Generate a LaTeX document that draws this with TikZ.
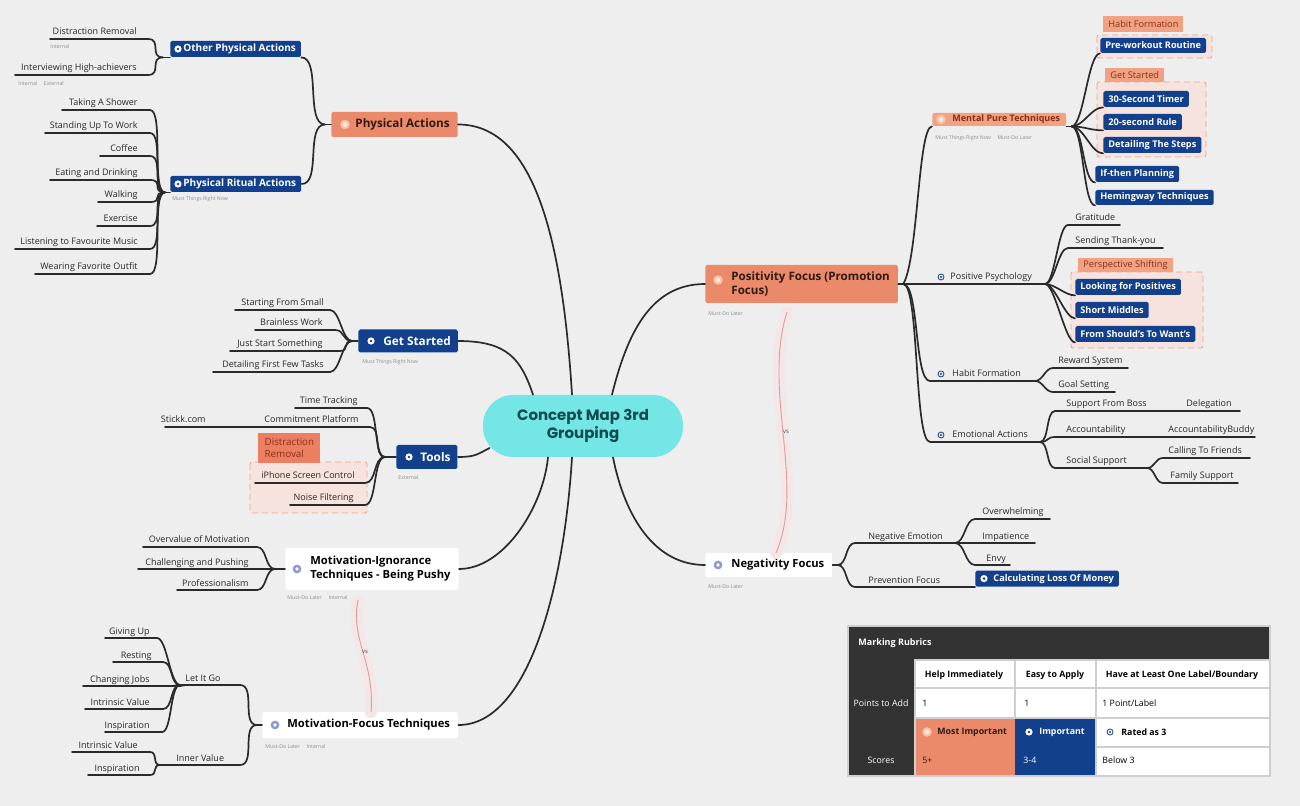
\documentclass[tikz,border=0pt]{standalone}
\usepackage{fontspec}
\setmainfont{Open Sans}
\newfontfamily\popfont{Poppins}
\definecolor{bgc}{HTML}{EFEEEE}
\definecolor{navy}{HTML}{12408C}
\definecolor{orng}{HTML}{EA8A6A}
\definecolor{orlab}{HTML}{F0A283}
\definecolor{ortxt}{HTML}{8A2E17}
\definecolor{dtxt}{HTML}{2E1A12}
\definecolor{cyanc}{HTML}{74E6E6}
\definecolor{tealc}{HTML}{0E4A50}
\definecolor{lnc}{HTML}{2A2A2A}
\definecolor{bndf}{HTML}{F6E3DE}
\definecolor{bndd}{HTML}{E9A38C}
\definecolor{relc}{HTML}{E29A9A}
\definecolor{relg}{HTML}{F3E7E7}
\definecolor{subc}{HTML}{8C8C8C}
\definecolor{tdark}{HTML}{333333}
\definecolor{gridc}{HTML}{CFCFCF}
\definecolor{icb}{HTML}{8E9BD0}
\definecolor{icor}{HTML}{F6C2AC}
\tikzset{
  ln/.style={draw=lnc, line width=0.85pt, line cap=round},
  lf/.style={font=\fontsize{4.5}{5.2}\selectfont, text=black!85, inner sep=0pt},
  subt/.style={font=\fontsize{2.6}{3}\selectfont, text=subc, inner sep=0pt, anchor=base west},
  bbox/.style={fill=navy, text=white, font=\bfseries\fontsize{4.6}{5.4}\selectfont, rounded corners=0.8pt, inner xsep=2.5pt, inner ysep=0pt, anchor=west},
  obox/.style={fill=orng, text=dtxt, font=\bfseries\fontsize{5.85}{6.8}\selectfont, rounded corners=1pt, inner xsep=4pt, inner ysep=0pt, anchor=west, align=left},
  wbox/.style={fill=white, text=black, font=\bfseries\fontsize{5.6}{7}\selectfont, rounded corners=1pt, inner xsep=4pt, inner ysep=0pt, anchor=west, align=left},
  olab/.style={fill=orlab, text=ortxt, font=\fontsize{4.6}{5.2}\selectfont, inner xsep=2.5pt, inner ysep=0pt, anchor=west, align=left},
  bnd/.style={fill=bndf, draw=bndd, densely dashed, line width=0.4pt, rounded corners=1pt},
  rel/.style={draw=relc, line width=0.45pt},
  relglow/.style={draw=relg, line width=6pt, line cap=round},
  cellt/.style={font=\fontsize{4.4}{5}\selectfont, inner sep=0pt},
  cellb/.style={font=\bfseries\fontsize{4.4}{5}\selectfont, inner sep=0pt},
}
\newcommand\leafL[6]{%
  \coordinate (#1-l) at (#2,#4);
  \coordinate (#1-r) at (#3,#4);
  \draw[ln] (#1-l) -- (#1-r);
  \node[lf,anchor=base east] (#1) at (#5,#4-4) {#6};}
\newcommand\leafR[6]{%
  \coordinate (#1-l) at (#2,#4);
  \coordinate (#1-r) at (#3,#4);
  \draw[ln] (#1-l) -- (#1-r);
  \node[lf,anchor=base west] (#1) at (#5,#4-4) {#6};}
\newcommand\cnL[3][14]{\draw[ln] (#2) .. controls +(-#1,0) and +(#1,0) .. (#3);}
\newcommand\cnR[3][14]{\draw[ln] (#2) .. controls +(#1,0) and +(-#1,0) .. (#3);}
\newcommand\icW[1]{\fill[white] (#1) circle (1.8pt); \fill[navy] (#1) circle (0.7pt);}
\newcommand\icO[1]{\fill[icor] (#1) circle (2.4pt); \fill[white,opacity=0.6] (#1) circle (1.2pt);}
\newcommand\icB[1]{\fill[icb] (#1) circle (2.2pt); \fill[white] (#1) circle (0.9pt);}
\newcommand\icP[1]{\draw[navy, line width=0.4pt] (#1) circle (1.5pt); \fill[navy] (#1) circle (0.55pt);}
\begin{document}
\begin{tikzpicture}[x=0.5pt,y=-0.5pt]
\useasboundingbox (0,0) rectangle (1300,806);
\fill[bgc] (0,0) rectangle (1300,806);

% ---------- boundaries ----------
\draw[bnd] (250,462) rectangle (367,513);
\draw[bnd] (1097,35) rectangle (1212,58);
\draw[bnd] (1097,82) rectangle (1206,157);
\draw[bnd] (1071,272) rectangle (1203,348);

% ---------- central ----------
\node[fill=cyanc, rounded corners=15pt, minimum width=100pt, minimum height=31pt,
      font=\popfont\bfseries\fontsize{7.5}{9.4}\selectfont, text=tealc, align=center] (c) at (583,426) {Concept Map 3rd\\Grouping};
\coordinate (cA) at ([shift={(-11,0)}]c.north);
\coordinate (cB) at ([shift={(-50,0)}]c.north);
\coordinate (cP) at ([shift={(29,0)}]c.north);
\coordinate (cC) at ([shift={(7,22)}]c.west);
\coordinate (cD) at ([shift={(-35,0)}]c.south);
\coordinate (cE) at ([shift={(-11,0)}]c.south);
\coordinate (cN) at ([shift={(30,0)}]c.south);

% ---------- main branch boxes ----------
\node[obox, minimum height=12.5pt] (pa) at (331,124.5) {\hspace*{8pt}Physical Actions};
\node[bbox, minimum height=8pt, font=\bfseries\fontsize{5}{6}\selectfont] (opa) at (170,49) {\hspace*{4pt}Other Physical Actions};
\node[bbox, minimum height=8pt, font=\bfseries\fontsize{5}{6}\selectfont] (pra) at (170,184) {\hspace*{4pt}Physical Ritual Actions};
\node[bbox, minimum height=11.5pt, inner xsep=3.5pt, font=\bfseries\fontsize{5.9}{6.8}\selectfont] (gs) at (358,341) {\hspace*{9pt}Get Started};
\node[bbox, minimum height=12pt, inner xsep=3.5pt, font=\bfseries\fontsize{5.9}{6.8}\selectfont] (tools) at (396,457) {\hspace*{8.5pt}Tools};
\node[wbox, minimum height=21pt] (mi) at (285,569) {\hspace*{8.5pt}Motivation-Ignorance\\\hspace*{8.5pt}Techniques - Being Pushy};
\node[wbox, minimum height=13pt] (mf) at (262,725) {\hspace*{8.5pt}Motivation-Focus Techniques};
\node[obox, minimum height=19pt, font=\bfseries\fontsize{5.8}{7.2}\selectfont] (pf) at (705,284) {\hspace*{9pt}Positivity Focus (Promotion\\\hspace*{9pt}Focus)};
\node[wbox, minimum height=12pt] (nf) at (705,565) {\hspace*{9pt}Negativity Focus};
\node[obox, minimum height=6.5pt, inner xsep=3pt, fill=orlab, text=ortxt, font=\bfseries\fontsize{4.5}{5.2}\selectfont] (mp) at (932,119.5) {\hspace*{7pt}Mental Pure Techniques};

% icons
\icO{[shift={(14,0)}]pa.west}
\icW{[shift={(8,0)}]opa.west}
\icW{[shift={(8,0)}]pra.west}
\icW{[shift={(13,0)}]gs.west}
\icW{[shift={(13,0)}]tools.west}
\icB{[shift={(12,0)}]mi.west}
\icB{[shift={(13,0)}]mf.west}
\icO{[shift={(13,-4)}]pf.west}
\icB{[shift={(13,0)}]nf.west}
\icO{[shift={(9,0)}]mp.west}

% subtitles
\node[subt] (pra-s) at (172,201) {Must Things Right Now};
\node[subt] (gs-s) at (362,364) {Must Things Right Now};
\node[subt] (tools-s) at (398,480) {External};
\node[subt] (mi-s) at (287,599) {Must-Do Later \quad Internal};
\node[subt] (mf-s) at (265,748) {Must-Do Later \quad Internal};
\node[subt] (pf-s) at (708,316) {Must-Do Later};
\node[subt] (nf-s) at (708,588) {Must-Do Later};
\node[subt] (mp-s) at (935,140) {Must Things Right Now \quad Must-Do Later};

% ---------- relations ----------
\coordinate (rmi) at ([shift={(73,31)}]mi.west);
\coordinate (rmf) at ([shift={(109,-13)}]mf.west);
\coordinate (rpf) at ([shift={(82,28)}]pf.west);
\coordinate (rnf) at ([shift={(71,-12)}]nf.west);
\draw[relglow] (rmi) .. controls +(-8,40) and +(4,-50) .. (rmf);
\draw[relglow] (rpf) .. controls +(-25,80) and +(30,-70) .. (rnf);
\draw[rel] (rmi) .. controls +(-8,40) and +(4,-50) .. (rmf);
\draw[rel] (rpf) .. controls +(-25,80) and +(30,-70) .. (rnf);
\node[font=\fontsize{3}{3.4}\selectfont, text=black!70, inner sep=0.5pt] (vs1) at (365,652) {vs};
\node[font=\fontsize{3}{3.4}\selectfont, text=black!70, inner sep=0.5pt] (vs2) at (786,432) {vs};

% ---------- central connectors ----------
\draw[ln] (pa.east) .. controls +(75,0) and +(-10,-160) .. (cA);
\draw[ln] (gs.east) .. controls +(50,0) and +(-12,-35) .. (cB);
\draw[ln] (tools.east) .. controls +(18,0) and +(-12,6) .. (cC);
\draw[ln] (mi.east) .. controls +(45,0) and +(-5,50) .. (cD);
\draw[ln] (mf.east) .. controls +(70,0) and +(-8,130) .. (cE);
\draw[ln] (cP) .. controls +(15,-60) and +(-55,0) .. (pf.west);
\draw[ln] (cN) .. controls +(12,60) and +(-50,0) .. (nf.west);

% ---------- Physical Actions ----------
\coordinate (jpa) at ([shift={(-6,0)}]pa.west);
\draw[ln] (pa.west) -- (jpa);
\cnL[20]{jpa}{opa.south east}
\cnL[20]{jpa}{pra.east}

\coordinate (jopa) at ([shift={(-7,0)}]opa.south west);
\draw[ln] (opa.south west) -- (jopa);
\leafL{dr}{50}{148}{39}{137}{Distraction Removal}
\leafL{ih}{15}{148}{75}{137}{Interviewing High-achievers}
\cnL{jopa}{dr-r}
\cnL{jopa}{ih-r}
\node[subt] (dr-s) at (50,49) {Internal};
\node[subt] (ih-s) at (18,86) {Internal \quad External};

\coordinate (jpra) at ([shift={(-5,0)}]pra.south west);
\draw[ln] (pra.south west) -- (jpra);
\leafL{ts}{62}{150}{110}{138}{Taking A Shower}
\leafL{su}{45}{150}{133}{138}{Standing Up To Work}
\leafL{cf}{100}{150}{156}{138}{Coffee}
\leafL{ed}{50}{150}{180}{138}{Eating and Drinking}
\leafL{wk}{98}{150}{202}{138}{Walking}
\leafL{ex}{97}{150}{226}{138}{Exercise}
\leafL{lm}{15}{150}{249}{138}{Listening to Favourite Music}
\leafL{wo}{35}{150}{274}{138}{Wearing Favorite Outfit}
\foreach \n in {ts,su,cf,ed,wk,ex,lm,wo}{\cnL{jpra}{\n-r}}

% ---------- Get Started ----------
\coordinate (jgs) at ([shift={(-6,0)}]gs.west);
\draw[ln] (gs.west) -- (jgs);
\leafL{sfs}{235}{330}{310}{324}{Starting From Small}
\leafL{bw}{255}{335}{330}{323}{Brainless Work}
\leafL{jss}{230}{340}{351}{323}{Just Start Something}
\leafL{dfft}{213}{330}{372}{324}{Detailing First Few Tasks}
\foreach \n in {sfs,bw,jss,dfft}{\cnL[10]{jgs}{\n-r}}

% ---------- Tools ----------
\node[olab, minimum height=15pt, minimum width=31pt, fill=orng!92!red, text=ortxt, font=\fontsize{4.9}{5.8}\selectfont] (ldr) at (258,448) {Distraction\\Removal};
\coordinate (jtl) at ([shift={(-11,0)}]tools.west);
\draw[ln] (tools.west) -- (jtl);
\leafL{tt}{295}{367}{408}{358}{Time Tracking}
\leafL{cp}{260}{370}{427}{359}{Commitment Platform}
\leafL{sk}{165}{260}{427}{206}{Stickk.com}
\leafL{iph}{255}{365}{483}{355}{iPhone Screen Control}
\leafL{nfl}{290}{365}{505}{354}{Noise Filtering}
\foreach \n in {tt,cp,iph,nfl}{\cnL[12]{jtl}{\n-r}}

% ---------- Motivation-Ignorance ----------
\coordinate (jmi) at ([shift={(-10,0)}]mi.west);
\draw[ln] (mi.west) -- (jmi);
\leafL{ovm}{143}{257}{547}{250}{Overvalue of Motivation}
\leafL{cap}{138}{270}{569}{249}{Challenging and Pushing}
\leafL{prf}{177}{257}{590}{249}{Professionalism}
\foreach \n in {ovm,cap,prf}{\cnL[10]{jmi}{\n-r}}

% ---------- Motivation-Focus ----------
\coordinate (jmf) at ([shift={(-5,0)}]mf.west);
\draw[ln] (mf.west) -- (jmf);
\leafR{lg}{180}{240}{685}{185}{Let It Go}
\leafR{inv}{160}{240}{765}{176}{Inner Value}
\cnL[16]{jmf}{lg-r}
\cnL[16]{jmf}{inv-r}
\leafL{gu}{105}{157}{638}{150}{Giving Up}
\leafL{rs}{113}{163}{662}{152}{Resting}
\leafL{cj}{83}{178}{686}{150}{Changing Jobs}
\leafL{iva}{85}{163}{709}{150}{Intrinsic Value}
\leafL{insa}{105}{162}{732}{150}{Inspiration}
\foreach \n in {gu,rs,cj,iva,insa}{\cnL[10]{lg-l}{\n-r}}
\leafL{ivb}{72}{150}{752}{138}{Intrinsic Value}
\leafL{insb}{88}{150}{775}{140}{Inspiration}
\foreach \n in {ivb,insb}{\cnL[8]{inv-l}{\n-r}}

% ---------- Positivity Focus ----------
\coordinate (jpf) at ([shift={(5,0)}]pf.east);
\draw[ln] (pf.east) -- (jpf);
\draw[ln] (jpf) .. controls +(15,-25) and +(-14,0) .. (mp.south west);
\leafR{pp}{930}{1045}{284}{950}{Positive Psychology}
\leafR{hf}{930}{1035}{381}{952}{Habit Formation}
\leafR{ea}{930}{1040}{442}{952}{Emotional Actions}
\icP{941,277}
\icP{941,374}
\icP{941,435}
\cnR{jpf}{pp-l}
\cnR[16]{jpf}{hf-l}
\cnR[16]{jpf}{ea-l}

% Mental Pure Techniques children
\node[olab, minimum height=8pt] (lhf) at (1103,24) {Habit Formation};
\node[olab, minimum height=7pt] (lgs) at (1105,75) {Get Started};
\node[bbox, minimum height=7.5pt] (pwr) at (1100,45.5) {Pre-workout Routine};
\node[bbox, minimum height=8pt] (t30) at (1103,99) {30-Second Timer};
\node[bbox, minimum height=8pt] (r20) at (1103,122) {20-second Rule};
\node[bbox, minimum height=8pt] (dts) at (1103,145) {Detailing The Steps};
\node[bbox, minimum height=8pt] (itp) at (1095,174) {If-then Planning};
\node[bbox, minimum height=7.5pt] (hem) at (1095,197.5) {Hemingway Techniques};
\coordinate (jmp) at ([shift={(5,0)}]mp.south east);
\draw[ln] (mp.south east) -- (jmp);
\foreach \n in {pwr,t30,r20,dts,itp,hem}{\cnR[12]{jmp}{\n.south west}}

% Positive Psychology children
\leafR{gr}{1068}{1120}{225}{1075}{Gratitude}
\leafR{sty}{1068}{1163}{248}{1075}{Sending Thank-you}
\node[olab, minimum height=7pt] (lps) at (1078,265) {Perspective Shifting};
\node[bbox, minimum height=8pt] (lfp) at (1075,287) {Looking for Positives};
\node[bbox, minimum height=8pt] (smd) at (1075,310) {Short Middles};
\node[bbox, minimum height=8pt] (sw) at (1075,334) {From Should's To Want's};
\cnR[10]{pp-r}{gr-l}
\cnR[10]{pp-r}{sty-l}
\foreach \n in {lfp,smd,sw}{\cnR[10]{pp-r}{\n.south west}}

% Habit Formation children
\leafR{rws}{1053}{1128}{368}{1058}{Reward System}
\leafR{gls}{1053}{1115}{392}{1058}{Goal Setting}
\cnR[8]{hf-r}{rws-l}
\cnR[8]{hf-r}{gls-l}

% Emotional Actions children
\leafR{sfb}{1055}{1160}{411}{1066}{Support From Boss}
\leafR{del}{1160}{1240}{411}{1186}{Delegation}
\leafR{acc}{1055}{1165}{437}{1066}{Accountability}
\leafR{acb}{1165}{1255}{437}{1168}{AccountabilityBuddy}
\leafR{ss}{1055}{1147}{468}{1066}{Social Support}
\foreach \n in {sfb,acc,ss}{\cnR[9]{ea-r}{\n-l}}
\leafR{ctf}{1163}{1250}{458}{1168}{Calling To Friends}
\leafR{fs}{1163}{1238}{483}{1170}{Family Support}
\cnR[8]{ss-r}{ctf-l}
\cnR[8]{ss-r}{fs-l}

% ---------- Negativity Focus ----------
\coordinate (jnf) at ([shift={(5,0)}]nf.east);
\draw[ln] (nf.east) -- (jnf);
\leafR{ne}{855}{955}{543}{868}{Negative Emotion}
\leafR{pvf}{855}{975}{587}{868}{Prevention Focus}
\cnR[10]{jnf}{ne-l}
\cnR[10]{jnf}{pvf-l}
\leafR{ovw}{975}{1050}{519}{982}{Overwhelming}
\leafR{imp}{955}{1035}{543}{982}{Impatience}
\leafR{env}{975}{1010}{565}{986}{Envy}
\cnR[10]{ne-r}{ovw-l}
\cnR[10]{ne-r}{env-l}
\node[bbox, minimum height=8pt, anchor=south west] (clm) at (pvf-r) {\hspace*{6.5pt}Calculating Loss Of Money};
\icW{[shift={(9,0)}]clm.west}

% ---------- table ----------
\fill[tdark] (848,626) rectangle (1270,776);
\node[font=\bfseries\fontsize{4.5}{5}\selectfont, text=white, anchor=west, inner sep=0pt] (tbh) at (858,643) {Marking Rubrics};
\fill[white] (915,660) rectangle (1270,718);
\fill[orng] (915,718) rectangle (1015,776);
\fill[navy] (1015,718) rectangle (1096,776);
\fill[white] (1096,718) rectangle (1270,776);
\draw[gridc, line width=0.9pt] (915,660) rectangle (1270,776)
  (915,688) -- (1270,688) (915,718) -- (1270,718) (1096,747) -- (1270,747)
  (1015,660) -- (1015,718) (1096,660) -- (1096,776);
\draw[gridc, line width=0.6pt] (848,626) rectangle (1270,776);
\node[cellb] (th1) at (964,675) {Help Immediately};
\node[cellb] (th2) at (1055,675) {Easy to Apply};
\node[cellb] (th3) at (1182,675) {Have at Least One Label/Boundary};
\node[cellt, text=white] (tl1) at (881,703) {Points to Add};
\node[cellt, text=white] (tl2) at (881,760) {Scores};
\node[cellt, anchor=west] (t21) at (922,703) {1};
\node[cellt, anchor=west] (t22) at (1024,703) {1};
\node[cellt, anchor=west] (t23) at (1102,703) {1 Point/Label};
\icO{927,732}
\node[cellb, anchor=west, text=dtxt] (t31) at (937,732) {Most Important};
\icW{1029,732}
\node[cellb, anchor=west, text=white] (t32) at (1039,732) {Important};
\icP{1110,732}
\node[cellb, anchor=west] (t33) at (1121,732) {Rated as 3};
\node[cellt, anchor=west, text=dtxt] (t41) at (922,760) {5+};
\node[cellt, anchor=west, text=white] (t42) at (1023,760) {3-4};
\node[cellt, anchor=west] (t43) at (1102,760) {Below 3};
\end{tikzpicture}
\end{document}
